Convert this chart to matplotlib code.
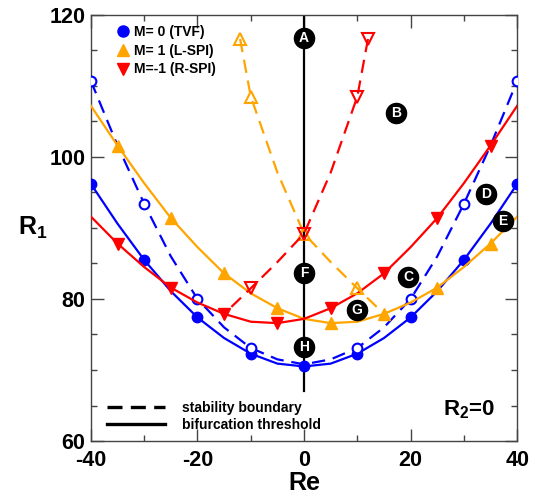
import numpy as np
import matplotlib
matplotlib.use('Agg')
import matplotlib.pyplot as plt
from matplotlib.lines import Line2D

plt.rcParams['font.family'] = ['Liberation Sans', 'DejaVu Sans']
plt.rcParams['font.weight'] = 'bold'
plt.rcParams['axes.unicode_minus'] = False
plt.rcParams['mathtext.fontset'] = 'custom'
plt.rcParams['mathtext.rm'] = 'Liberation Sans:bold'
plt.rcParams['mathtext.it'] = 'Liberation Sans:bold'
plt.rcParams['mathtext.bf'] = 'Liberation Sans:bold'

# Re values for the threshold / boundary curves
re_grid = [-40, -35, -30, -25, -20, -15, -10, -5, 0, 5, 10, 15, 20, 25, 30, 35, 40]

# M=0 (TVF)
tvf_bif = [96.2, 90.6, 85.5, 81.1, 77.4, 74.5, 72.3, 70.9, 70.5,
           70.9, 72.3, 74.5, 77.4, 81.1, 85.5, 90.6, 96.2]
tvf_stab = [110.7, 101.6, 93.4, 86.0, 80.0, 76.0, 73.1, 71.5, 70.8,
            71.5, 73.1, 76.0, 80.0, 86.0, 93.4, 101.6, 110.7]

# M=1 (L-SPI) and M=-1 (R-SPI)
lspi_bif = [107.2, 101.6, 96.3, 91.4, 87.3, 83.6, 80.8, 78.7, 77.2,
            76.6, 76.8, 77.9, 79.5, 81.6, 84.5, 87.8, 91.6]
rspi_bif = lspi_bif[::-1]

lspi_stab_re = [-12, -10, -5, 0, 5, 10, 15]
lspi_stab = [116.6, 108.5, 97.8, 89.2, 85.2, 81.5, 77.9]
rspi_stab_re = [12, 10, 5, 0, -5, -10, -15]
rspi_stab = [116.6, 108.5, 97.8, 89.2, 85.2, 81.5, 77.9]

# region labels
region_names = ['A', 'B', 'C', 'D', 'E', 'F', 'G', 'H']
region_re = [0, 17.3, 19.6, 34.2, 37.3, 0, 9.9, 0]
region_r1 = [116.8, 106.2, 83.1, 94.8, 91.0, 83.6, 78.5, 73.3]

tvf_marks = [i for i, r in enumerate(re_grid) if r % 10 == 0]
tvf_stab_marks = [i for i in tvf_marks if re_grid[i] != 0]
spi_marks = [i for i, r in enumerate(re_grid) if r % 10 != 0]

fig = plt.figure(figsize=(5.41, 4.95), dpi=100)
ax = fig.add_axes([0.168, 0.109, 0.788, 0.861])

lw = 1.6
dash = (6, 3.5)

ax.plot(re_grid, tvf_bif, color='blue', lw=lw, marker='o', ms=7.5,
        markevery=tvf_marks, zorder=3)
ax.plot(re_grid, tvf_stab, color='blue', lw=lw, dashes=dash, marker='o', ms=7,
        mfc='white', mew=1.5, markevery=tvf_stab_marks, zorder=3)
ax.plot(re_grid, lspi_bif, color='orange', lw=lw, marker='^', ms=8.5,
        markevery=spi_marks, zorder=3)
ax.plot(re_grid, rspi_bif, color='red', lw=lw, marker='v', ms=8.5,
        markevery=spi_marks, zorder=3)
ax.plot(lspi_stab_re, lspi_stab, color='orange', lw=lw, dashes=dash, marker='^',
        ms=8, mfc='none', mew=1.5, markevery=[0, 1, 3, 5], zorder=3)
ax.plot(rspi_stab_re, rspi_stab, color='red', lw=lw, dashes=dash, marker='v',
        ms=8, mfc='none', mew=1.5, markevery=[0, 1, 3, 5], zorder=3)

# Re=0 line
ax.plot([0, 0], [67, 120], color='black', lw=1.6, zorder=2)

ax.scatter(region_re, region_r1, s=210, color='black', zorder=5)
for name, x, y in zip(region_names, region_re, region_r1):
    ax.text(x, y, name, color='white', fontsize=10, fontweight='bold',
            ha='center', va='center', zorder=6)

ax.text(31.0, 64.4, 'R$_2$=0', fontsize=16, fontweight='bold',
        ha='center', va='center')

ax.set_xlim(-40, 40)
ax.set_ylim(60, 120)
ax.set_xticks([-40, -20, 0, 20, 40])
ax.set_xticks([-30, -10, 10, 30], minor=True)
ax.set_yticks([60, 80, 100, 120])
ax.set_yticks(np.arange(65, 120, 5), minor=True)
ax.tick_params(which='both', direction='in', top=True, right=True,
               color='#444444', width=1)
ax.tick_params(which='major', length=9, labelsize=15.5)
ax.tick_params(axis='x', which='major', pad=6.5)
ax.tick_params(axis='y', which='major', pad=4)
ax.tick_params(which='minor', length=4.5)
for lab in ax.get_xticklabels() + ax.get_yticklabels():
    lab.set_fontweight('bold')
for sp in ax.spines.values():
    sp.set_color('#444444')
    sp.set_linewidth(1)

ax.set_xlabel('Re', fontsize=18, fontweight='bold', labelpad=0)
ax.set_ylabel('R$_1$', fontsize=18, fontweight='bold', rotation=0,
              labelpad=12, va='center')

h1 = [Line2D([], [], color='blue', marker='o', ls='none', ms=8),
      Line2D([], [], color='orange', marker='^', ls='none', ms=9),
      Line2D([], [], color='red', marker='v', ls='none', ms=9)]
leg1 = ax.legend(h1, ['M= 0 (TVF)', 'M= 1 (L-SPI)', 'M=-1 (R-SPI)'],
                 loc='upper left', bbox_to_anchor=(0.045, 0.99), frameon=False,
                 prop={'size': 10, 'weight': 'bold'}, handlelength=1.0,
                 handletextpad=0.3, labelspacing=0.35, borderaxespad=0)
ax.add_artist(leg1)

h2 = [Line2D([], [], color='black', lw=2.4, dashes=(4.5, 2.5)),
      Line2D([], [], color='black', lw=2.4)]
ax.legend(h2, ['stability boundary', 'bifurcation threshold'],
          loc='lower left', bbox_to_anchor=(0.025, 0.008), frameon=False,
          prop={'size': 10, 'weight': 'bold'}, handlelength=4.2,
          handletextpad=1.2, labelspacing=0.25, borderaxespad=0)

fig.savefig('out.png', dpi=100)
